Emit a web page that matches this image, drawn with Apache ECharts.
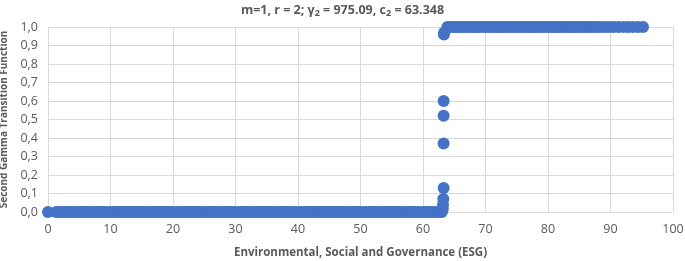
<!DOCTYPE html>
<html>
<head>
<meta charset="utf-8">
<script src="https://cdn.jsdelivr.net/npm/echarts@6/dist/echarts.min.js"></script>
<style>
	html, body { margin: 0; padding: 0; background: #fff; }
	#chart { width: 685px; height: 261px; }
</style>
</head>
<body>
<div id="chart"></div>
<script>
// ESG values where the transition function is ~0
var lowX = [0, 1.3, 1.8, 2.3, 2.8, 3.3, 3.8, 4.3, 4.8, 5.3, 5.8, 6.3, 6.8, 7.3, 7.8, 8.3, 8.8,
	9.3, 9.8, 10.3, 10.8, 11.3, 11.8, 12.3, 12.8, 13.3, 13.8, 14.3, 14.8, 15.3, 15.8, 16.3,
	16.8, 17.3, 17.8, 18.3, 18.8, 19.3, 19.8, 20.3, 20.8, 21.3, 21.8, 22.3, 22.8, 23.3, 23.8,
	24.3, 24.8, 25.3, 25.8, 26.3, 26.8, 27.3, 27.8, 28.3, 28.8, 29.3, 29.8, 30.3, 30.8, 31.3,
	31.8, 32.3, 32.8, 33.3, 33.8, 34.3, 34.8, 35.3, 35.8, 36.3, 36.8, 37.3, 37.8, 38.3, 38.8,
	39.3, 39.8, 40.3, 40.8, 41.3, 41.8, 42.3, 42.8, 43.3, 43.8, 44.3, 44.8, 45.3, 45.8, 46.3,
	46.8, 47.3, 47.8, 48.3, 48.8, 49.3, 49.8, 50.3, 50.8, 51.3, 51.8, 52.3, 52.8, 53.3, 53.8,
	54.3, 54.8, 55.3, 55.8, 56.3, 56.8, 57.3, 57.8, 58.3, 58.8, 59.3, 59.8, 60.3, 60.8, 61.3,
	61.8, 62.3, 62.7, 63.0];
// ESG values where the transition function is ~1
var highX = [63.9, 64.4, 64.9, 65.4, 65.9, 66.4, 66.9, 67.4, 67.9, 68.4, 68.9, 69.4, 69.9,
	70.4, 70.9, 71.4, 71.9, 72.4, 72.9, 73.4, 73.9, 74.4, 74.9, 75.4, 75.9, 76.4, 76.9, 77.4,
	77.9, 78.4, 78.9, 79.4, 79.9, 80.4, 80.9, 81.4, 81.9, 82.4, 82.9, 83.4, 83.9, 84.4, 84.9,
	85.4, 85.9, 86.4, 86.9, 87.4, 87.9, 88.5, 89.1, 89.8, 90.5, 91.3, 92.1, 92.8, 93.6, 94.4,
	95.2];
// points inside the transition
var midX = [63.1, 63.15, 63.2, 63.25, 63.3, 63.3, 63.3, 63.3, 63.35, 63.4];
var midY = [0.01, 0.02, 0.04, 0.07, 0.13, 0.37, 0.52, 0.60, 0.96, 0.97];

var dataPoints = [];
lowX.forEach(function(x) { dataPoints.push([x, 0]); });
midX.forEach(function(x, i) { dataPoints.push([x, midY[i]]); });
highX.forEach(function(x) { dataPoints.push([x, 1]); });

var chart = echarts.init(document.getElementById('chart'));
var FONT = 'Open Sans';
var TXT = '#595959';

var option = {
	animation: false,
	title: {
		text: '{n|m=1, r = 2; γ}{s|2}{n| = 975.09, c}{s|2}{n| = 63.348}',
		left: 'center',
		top: -3,
		textStyle: {
			rich: {
				n: { fontFamily: FONT, fontSize: 12.5, fontWeight: 'bold', color: TXT },
				s: { fontFamily: FONT, fontSize: 9, fontWeight: 'bold', color: TXT, padding: [7, 0, 0, 0] }
			}
		}
	},
	grid: { left: 48, right: 12, top: 27, bottom: 49, outerBoundsMode: 'none' },
	xAxis: {
		type: 'value',
		min: 0, max: 100, interval: 10,
		name: 'Environmental, Social and Governance (ESG)',
		nameLocation: 'middle',
		nameGap: 35,
		nameTextStyle: { fontFamily: FONT, fontSize: 11.5, fontWeight: 'bold', color: TXT },
		axisLine: { show: false },
		axisTick: { show: false },
		axisLabel: { fontFamily: FONT, fontSize: 12.5, color: TXT, margin: 11 },
		splitLine: { show: true, lineStyle: { color: '#d9d9d9', width: 1 } }
	},
	yAxis: {
		type: 'value',
		min: 0, max: 1, interval: 0.1,
		name: 'Second Gamma Transition Function',
		nameLocation: 'middle',
		nameGap: 37,
		nameTextStyle: { fontFamily: FONT, fontSize: 10, fontWeight: 'bold', color: TXT },
		axisLine: { show: false },
		axisTick: { show: false },
		axisLabel: {
			fontFamily: FONT, fontSize: 12.5, color: TXT, margin: 10,
			formatter: function(v) { return v.toFixed(1).replace('.', ','); }
		},
		splitLine: { show: true, lineStyle: { color: '#d9d9d9', width: 1 } }
	},
	series: [{
		type: 'scatter',
		symbol: 'circle',
		symbolSize: 12,
		itemStyle: { color: '#4472C4', opacity: 1 },
		data: dataPoints
	}]
};

chart.setOption(option);
</script>
</body>
</html>
